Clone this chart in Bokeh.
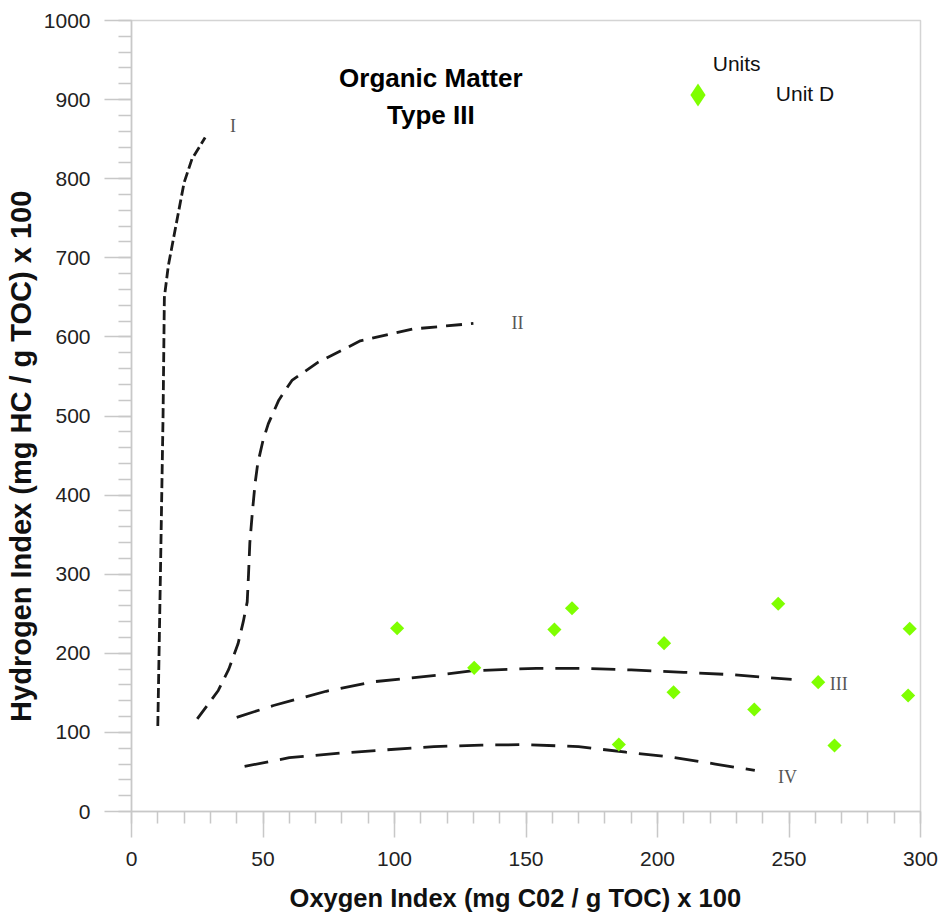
import math
from bokeh.plotting import figure
from bokeh.models import (Label, Legend, LegendItem, FixedTicker, Range1d,
                          ColumnDataSource)
from bokeh.embed import file_html
from bokeh.resources import INLINE

# ---------------- data ----------------
unit_d_oi = [101.0, 130.3, 160.8, 167.5, 202.5, 206.1, 185.3, 236.8, 245.9, 261.1, 267.3, 295.9, 295.3]
unit_d_hi = [231.7, 181.6, 230.0, 257.0, 212.8, 150.8, 84.7, 129.0, 262.6, 163.5, 83.4, 231.0, 146.6]

type1_oi = [10, 11, 12, 12.5, 14, 16, 18, 20, 23, 28]
type1_hi = [108, 300, 500, 650, 690, 725, 760, 795, 825, 852]

type2_oi = [25, 29, 33, 37, 40.5, 42.5, 44, 44.5, 45, 46, 47, 48, 50, 52, 56, 61, 71, 87, 107, 130]
type2_hi = [117, 135, 153, 180, 212, 240, 265, 300, 340, 380, 415, 440, 469, 490, 520, 545, 568, 595, 610, 617]

type3_oi = [40, 54, 74, 92, 118, 130, 154, 171, 190, 210, 228, 251]
type3_hi = [119, 134, 152, 164, 173, 178, 181, 181, 179, 176, 173, 167]

type4_oi = [43, 60, 80, 97, 115, 133, 150, 170, 188, 205, 222, 237]
type4_hi = [57, 68, 74, 78, 82, 84, 84.5, 82, 75, 69, 60, 52]

curve_names = ["I", "II", "III", "IV"]
x_ticks = [0, 50, 100, 150, 200, 250, 300]
y_ticks = [0, 100, 200, 300, 400, 500, 600, 700, 800, 900, 1000]

# ---------------- figure ----------------
SANS = "Liberation Sans"
p = figure(frame_width=789, frame_height=791, output_backend="svg", toolbar_location=None,
           x_range=Range1d(0, 300), y_range=Range1d(0, 1000),
           min_border_left=131, min_border_right=20, min_border_top=20,
           min_border_bottom=90)
p.grid.visible = False
p.outline_line_color = "#d4d4d4"
p.outline_line_width = 1.5
p.background_fill_color = "white"
p.border_fill_color = "white"

for ax in (p.xaxis[0], p.yaxis[0]):
    ax.axis_line_color = "#c8c8c8"
    ax.axis_line_width = 1.5
    ax.major_tick_line_color = "#c8c8c8"
    ax.minor_tick_line_color = "#c8c8c8"
    ax.major_tick_line_width = 1.5
    ax.minor_tick_line_width = 1.5
    ax.major_tick_in = 0
    ax.minor_tick_in = 0
    ax.major_label_text_font = SANS
    ax.major_label_text_font_size = "21px"
    ax.major_label_text_color = "#222222"
    ax.axis_label_text_font = SANS
    ax.axis_label_text_font_style = "bold"
    ax.axis_label_text_color = "#111111"

p.xaxis.ticker = FixedTicker(ticks=x_ticks, minor_ticks=list(range(0, 301, 10)))
p.yaxis.ticker = FixedTicker(ticks=y_ticks, minor_ticks=list(range(0, 1001, 20)))
p.xaxis.major_tick_out = 26
p.xaxis.minor_tick_out = 12
p.yaxis.major_tick_out = 27
p.yaxis.minor_tick_out = 13
p.xaxis.major_label_standoff = 14
p.yaxis.major_label_standoff = 14
p.xaxis.axis_label = "Oxygen Index (mg C02 / g TOC) x 100   "
p.yaxis.axis_label = "Hydrogen Index (mg HC / g TOC) x 100          "
p.xaxis.axis_label_text_font_size = "25.5px"
p.yaxis.axis_label_text_font_size = "29px"
p.xaxis.axis_label_standoff = 15
p.yaxis.axis_label_standoff = 4

# ---------------- curves ----------------
p.line(type1_oi, type1_hi, line_color="#1a1a1a", line_width=2.8, line_dash="10 4")
p.line(type2_oi, type2_hi, line_color="#1a1a1a", line_width=2.8, line_dash="16 9")
p.line(type3_oi, type3_hi, line_color="#1a1a1a", line_width=2.8, line_dash="24 12")
p.line(type4_oi, type4_hi, line_color="#1a1a1a", line_width=2.8, line_dash="24 12")

label_pos = [(38.6, 867), (146.8, 618), (268.9, 160.6), (249.4, 44)]
for name, (lx, ly) in zip(curve_names, label_pos):
    p.add_layout(Label(x=lx, y=ly, text=name, text_font="Liberation Serif",
                       text_font_size="18px", text_color="#555555",
                       text_align="center", text_baseline="middle"))

# ---------------- points ----------------
src = ColumnDataSource(dict(oi=unit_d_oi, hi=unit_d_hi))
p.scatter("oi", "hi", source=src, marker="square", angle=math.pi / 4, size=10,
          fill_color="#7FFF00", line_color=None)
leg_r = p.scatter("oi", "hi", source=src, marker="diamond", size=24,
                  fill_color="#7FFF00", line_color=None, visible=False)

legend = Legend(items=[LegendItem(label="Unit D", renderers=[leg_r])],
                location=(537.8, 688.5), padding=0, margin=0, spacing=0,
                border_line_color=None, background_fill_alpha=0,
                glyph_width=57, glyph_height=57, label_standoff=50,
                label_text_font=SANS, label_text_font_size="21px",
                label_text_color="#111111")
p.add_layout(legend)

p.add_layout(Label(x=221, y=945.6, text="Units", text_font=SANS,
                   text_font_size="21px", text_color="#111111",
                   text_align="left", text_baseline="middle"))

# ---------------- title ----------------
p.add_layout(Label(x=113.8, y=926.7, text="Organic Matter", text_font=SANS,
                   text_font_size="26px", text_font_style="bold",
                   text_color="#000000", text_align="center", text_baseline="middle"))
p.add_layout(Label(x=113.8, y=880.0, text="Type III", text_font=SANS,
                   text_font_size="26px", text_font_style="bold",
                   text_color="#000000", text_align="center", text_baseline="middle"))

open("out.html", "w").write(file_html(p, INLINE))
